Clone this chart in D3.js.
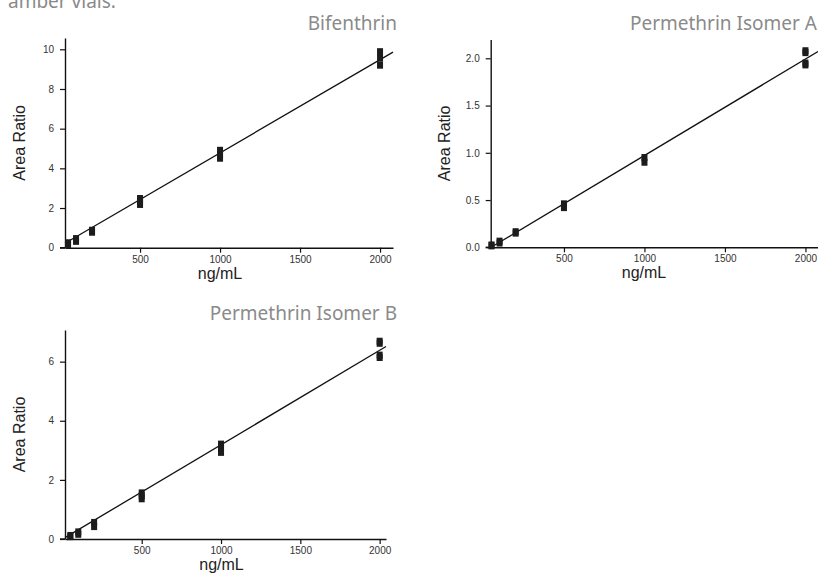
<!DOCTYPE html>
<html>
<head>
<meta charset="utf-8">
<script src="https://cdn.jsdelivr.net/npm/d3@7"></script>
<style>
  html, body { margin: 0; padding: 0; background: #fff; }
  svg { display: block; }
</style>
</head>
<body>
<svg id="chart" width="818" height="574"></svg>
<script>
// ---------------- DATA ----------------
const captionText = "amber vials.";
const xLabel = "ng/mL";
const yLabel = "Area Ratio";
const xTicks = [500, 1000, 1500, 2000];

const bifenthrinTitle = "Bifenthrin";
const bifenthrinConc = [50, 50, 100, 100, 200, 200, 500, 500, 500, 1000, 1000, 1000, 2000, 2000, 2000];
const bifenthrinRatio = [0.15, 0.25, 0.32, 0.46, 0.78, 0.88, 2.18, 2.32, 2.48, 4.51, 4.7, 4.91, 9.2, 9.55, 9.88];
const bifenthrinFit = { slope: 0.0047, intercept: 0.08 };
const bifenthrinYTicks = [0, 2, 4, 6, 8, 10];

const isomerATitle = "Permethrin Isomer A";
const isomerAConc = [50, 50, 100, 100, 200, 200, 500, 500, 1000, 1000, 2000, 2000, 2000, 2000];
const isomerARatio = [0.015, 0.025, 0.045, 0.065, 0.15, 0.165, 0.42, 0.46, 0.9, 0.95, 1.93, 1.95, 2.06, 2.08];
const isomerAFit = { slope: 0.00102, intercept: -0.048 };
const isomerAYTicks = [0, 0.5, 1.0, 1.5, 2.0];

const isomerBTitle = "Permethrin Isomer B";
const isomerBConc = [50, 50, 100, 100, 200, 200, 500, 500, 500, 1000, 1000, 1000, 2000, 2000, 2000, 2000];
const isomerBRatio = [0.08, 0.12, 0.16, 0.24, 0.42, 0.56, 1.36, 1.46, 1.56, 2.93, 3.07, 3.21, 6.14, 6.22, 6.62, 6.69];
const isomerBFit = { slope: 0.003194, intercept: -0.006 };
const isomerBYTicks = [0, 2, 4, 6];

// ---------------- LAYOUT ----------------
const svg = d3.select("#chart");

svg.append("text")
  .attr("x", 8).attr("y", 8)
  .attr("font-family", "Noto Sans, sans-serif")
  .attr("font-size", 19)
  .attr("fill", "#8a8a8a")
  .text(captionText);

function panel(cfg) {
  const g = svg.append("g");
  const x = d3.scaleLinear().domain(cfg.xDomain).range(cfg.xRange);
  const y = d3.scaleLinear().domain(cfg.yDomain).range(cfg.yRange);

  // title
  g.append("text")
    .attr("x", cfg.titleX).attr("y", cfg.titleY)
    .attr("text-anchor", "end")
    .attr("font-family", "Noto Sans, sans-serif")
    .attr("font-size", 19)
    .attr("fill", "#8a8a8a")
    .text(cfg.title);

  // axes
  const xAxis = d3.axisBottom(x).tickValues(xTicks).tickSize(5).tickPadding(3).tickSizeOuter(0)
    .tickFormat(d3.format("d"));
  const yAxis = d3.axisLeft(y).tickValues(cfg.yTicks).tickSize(5).tickPadding(6).tickSizeOuter(0)
    .tickFormat(cfg.yFormat);

  const gx = g.append("g").attr("transform", `translate(0,${cfg.yRange[0]})`).call(xAxis);
  const gy = g.append("g").attr("transform", `translate(${cfg.xRange[0]},0)`).call(yAxis);
  [gx, gy].forEach(a => {
    a.select(".domain").attr("stroke", "#111").attr("stroke-width", 1.4);
    a.selectAll(".tick line").attr("stroke", "#111").attr("stroke-width", 1.2);
    a.selectAll(".tick text")
      .attr("font-family", "Liberation Sans, Arial, sans-serif")
      .attr("font-size", 10)
      .attr("fill", "#333");
  });
  // extend x axis line left to cover y tick at zero
  g.append("line")
    .attr("x1", cfg.xRange[0] - 5).attr("x2", cfg.xRange[0])
    .attr("y1", cfg.yRange[0]).attr("y2", cfg.yRange[0])
    .attr("stroke", "#111").attr("stroke-width", 1.4);

  // axis labels
  g.append("text")
    .attr("transform", `translate(${cfg.yLabelX},${(cfg.yRange[0] + cfg.yRange[1]) / 2}) rotate(-90)`)
    .attr("text-anchor", "middle")
    .attr("font-family", "Liberation Sans, Arial, sans-serif")
    .attr("font-size", 16)
    .attr("fill", "#222")
    .attr("dy", "0.35em")
    .text(yLabel);
  g.append("text")
    .attr("x", cfg.xLabelX).attr("y", cfg.yRange[0] + 31)
    .attr("text-anchor", "middle")
    .attr("font-family", "Liberation Sans, Arial, sans-serif")
    .attr("font-size", 16)
    .attr("fill", "#222")
    .text(xLabel);

  // regression line
  const x0 = cfg.xDomain[0], x1 = cfg.xDomain[1];
  g.append("line")
    .attr("x1", x(x0)).attr("y1", y(cfg.fit.slope * x0 + cfg.fit.intercept))
    .attr("x2", x(x1)).attr("y2", y(cfg.fit.slope * x1 + cfg.fit.intercept))
    .attr("stroke", "#111").attr("stroke-width", 1.3);

  // markers
  const pts = cfg.conc.map((c, i) => ({ c, v: cfg.ratio[i] }));
  g.selectAll("rect.pt").data(pts).enter().append("rect")
    .attr("class", "pt")
    .attr("x", d => x(d.c) - 3)
    .attr("y", d => y(d.v) - 3.5)
    .attr("width", 6).attr("height", 7)
    .attr("fill", "#1c1c1c");
}

panel({
  title: bifenthrinTitle, titleX: 397, titleY: 30,
  conc: bifenthrinConc, ratio: bifenthrinRatio, fit: bifenthrinFit,
  xDomain: [31, 2081], xRange: [65, 393],
  yDomain: [0, 10.57], yRange: [247.7, 38],
  yTicks: bifenthrinYTicks, yFormat: d3.format("d"),
  yLabelX: 19, xLabelX: 220
});

panel({
  title: isomerATitle, titleX: 817, titleY: 30,
  conc: isomerAConc, ratio: isomerARatio, fit: isomerAFit,
  xDomain: [45, 2078], xRange: [490.7, 818],
  yDomain: [0, 2.2], yRange: [247.3, 39.4],
  yTicks: isomerAYTicks, yFormat: d3.format(".1f"),
  yLabelX: 444, xLabelX: 644
});

panel({
  title: isomerBTitle, titleX: 397, titleY: 320,
  conc: isomerBConc, ratio: isomerBRatio, fit: isomerBFit,
  xDomain: [16.4, 2040], xRange: [65, 386],
  yDomain: [0, 7.07], yRange: [539, 330],
  yTicks: isomerBYTicks, yFormat: d3.format("d"),
  yLabelX: 19, xLabelX: 221.5
});
</script>
</body>
</html>
